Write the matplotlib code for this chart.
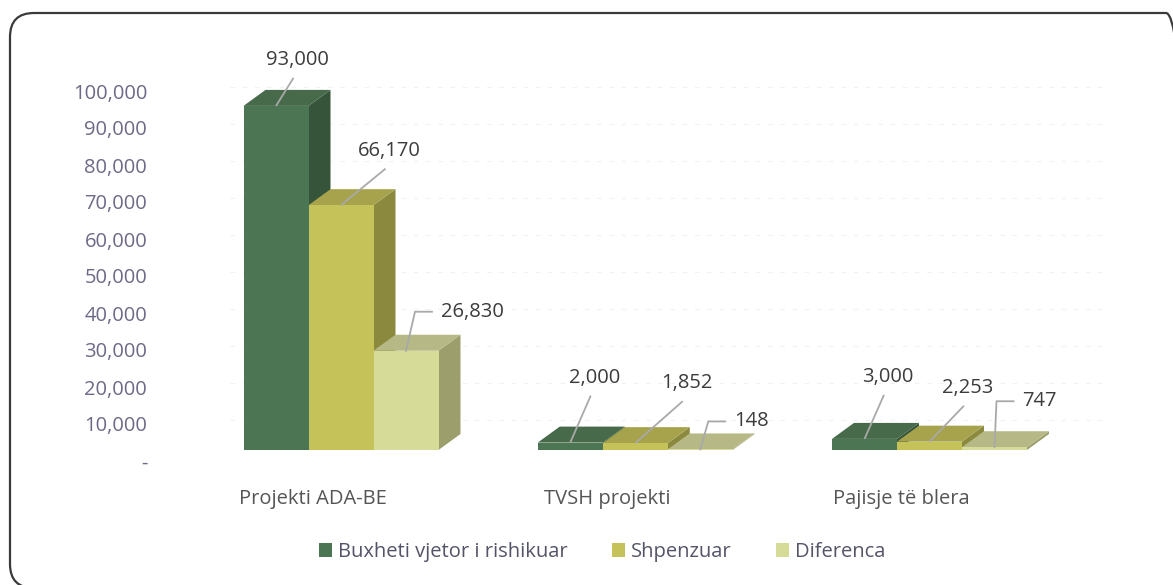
import matplotlib
matplotlib.use("Agg")
import matplotlib.pyplot as plt
from matplotlib.patches import Polygon, Patch, FancyBboxPatch
from matplotlib.transforms import IdentityTransform, ScaledTranslation

# ---------------- data ----------------
categories = ["Projekti ADA-BE", "TVSH projekti", "Pajisje të blera"]
series_names = ["Buxheti vjetor i rishikuar", "Shpenzuar", "Diferenca"]
budget = [93000, 2000, 3000]
spent = [66170, 1852, 2253]
difference = [26830, 148, 747]
value_labels = [["93,000", "2,000", "3,000"],
                ["66,170", "1,852", "2,253"],
                ["26,830", "148", "747"]]
y_ticks = [0, 10000, 20000, 30000, 40000, 50000, 60000, 70000, 80000, 90000, 100000]
y_tick_labels = ["-", "10,000", "20,000", "30,000", "40,000", "50,000",
                 "60,000", "70,000", "80,000", "90,000", "100,000"]

series = [budget, spent, difference]

# ---------------- style ----------------
front_cols = ["#4b7553", "#c6c25a", "#d7db98"]
top_cols = ["#466a4a", "#a6a34c", "#b6b986"]
side_cols = ["#36543a", "#8b893d", "#9c9f6c"]
tick_col = "#6d6a87"
label_col = "#3c3c3c"
cat_col = "#555555"
leader_col = "#a9a9a9"

plt.rcParams["font.family"] = ["Open Sans", "DejaVu Sans"]

W, H = 1173, 585
fig = plt.figure(figsize=(W / 100, H / 100), dpi=100)

# axes geometry in pixels
ax_left_px, ax_right_px = 150, 1110
y0_px, ytop_px = 461, 54           # pixel rows (from top) for y=0 and y=110000
ymax = 110000
ax = fig.add_axes([ax_left_px / W, (H - y0_px) / H,
                   (ax_right_px - ax_left_px) / W, (y0_px - ytop_px) / H])
ax.set_ylim(0, ymax)
px_per_x = 294.25
x_first_px = 341
ax.set_xlim(-(x_first_px - ax_left_px) / px_per_x, (ax_right_px - x_first_px) / px_per_x)
px_per_y = (y0_px - ytop_px) / ymax

for s in ax.spines.values():
    s.set_visible(False)
ax.set_facecolor("none")

def px2dx(p):
    return p / px_per_x

def px2dy(p):
    return p / px_per_y

bar_w = px2dx(65)
depth_x = px2dx(22)
depth_y = px2dy(16)
lift = px2dy(11)         # front faces sit slightly above the axis zero

# very faint back-wall gridlines
for v in y_ticks[1:] + [110000]:
    yy = v + px2dy(4)
    ax.plot([px2dx(230 - x_first_px), px2dx(1110 - x_first_px)], [yy, yy],
            color="#f1f1f1", lw=0.8, ls=(0, (4, 7)), zorder=0)

# bars (pseudo 3-D)
z = 2
for j in range(len(categories)):
    for i, vals in enumerate(series):
        v = vals[j]
        x0 = j + (i - 1.5) * bar_w
        x1 = x0 + bar_w
        b, t = lift, lift + v
        side = Polygon([(x1, b), (x1 + depth_x, b + depth_y), (x1 + depth_x, t + depth_y), (x1, t)],
                       closed=True, fc=side_cols[i], ec="none", zorder=z)
        top = Polygon([(x0, t), (x1, t), (x1 + depth_x, t + depth_y), (x0 + depth_x, t + depth_y)],
                      closed=True, fc=top_cols[i], ec="none", zorder=z + 0.1)
        front = Polygon([(x0, b), (x1, b), (x1, t), (x0, t)],
                        closed=True, fc=front_cols[i], ec="none", zorder=z + 0.2)
        for p in (side, top, front):
            ax.add_patch(p)
        z += 1

# data labels (offsets in pixels from the front-top centre of each bar)
label_offsets = [[(21.5, -46), (24.5, -65), (23.5, -62)],
                 [(48.5, -54.5), (51.5, -60), (38.5, -54)],
                 [(35, -39), (34, -28), (28, -46)]]
for i, vals in enumerate(series):
    for j, v in enumerate(vals):
        cx = j + (i - 1) * bar_w
        cy = lift + v
        ox, oy = label_offsets[i][j]
        lx, ly = cx + px2dx(ox), cy - px2dy(oy)
        if i < 2:
            ax.text(lx, ly, value_labels[i][j], ha="center", va="center",
                    fontsize=14.5, color=label_col, zorder=50)
            ax.plot([cx, lx - px2dx(4)], [cy, ly - px2dy(18)],
                    color=leader_col, lw=1.3, zorder=49, solid_capstyle="butt")
        else:
            ax.text(lx, ly, value_labels[i][j], ha="left", va="center",
                    fontsize=14.5, color=label_col, zorder=50)
            cxp = lx - px2dx(26)
            ax.plot([cx, cxp, lx - px2dx(9)], [cy, ly, ly],
                    color=leader_col, lw=1.3, zorder=49)

# axes ticks
ax.set_yticks(y_ticks)
ax.set_yticklabels(y_tick_labels, fontsize=14.5, color=tick_col)
ax.tick_params(axis="y", length=0, pad=2)
ax.set_xticks(range(len(categories)))
ax.set_xticklabels(categories, fontsize=14.5, color=cat_col)
ax.tick_params(axis="x", length=0, pad=20)
for lab in ax.get_xticklabels():
    lab.set_transform(lab.get_transform() + ScaledTranslation(-28 / 100, 0, fig.dpi_scale_trans))

# legend
handles = [Patch(fc=front_cols[i], ec="none") for i in range(3)]
fig.legend(handles, series_names, loc="center", bbox_to_anchor=(602 / W, 1 - 552 / H),
           ncol=3, frameon=False, fontsize=14.5, handlelength=0.65, handleheight=0.65,
           handletextpad=0.3, columnspacing=2.2, labelcolor="#545468")

# rounded outer border (bottom and right edges fall just outside the image)
border = FancyBboxPatch((10, H - 588), 1180, 588 - 13,
                        boxstyle="round,pad=0,rounding_size=24",
                        transform=IdentityTransform(), fc="none", ec="#3a3a3a", lw=1.6)
fig.patches.append(border)

fig.savefig("out.png", dpi=100)
